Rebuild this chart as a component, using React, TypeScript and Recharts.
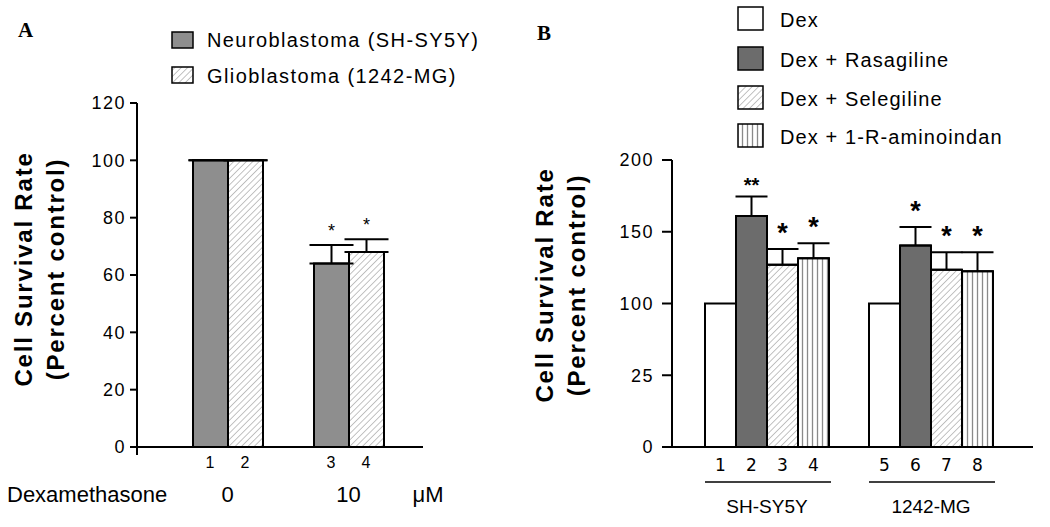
import React from "react";
import { BarChart, Bar, XAxis, YAxis, ErrorBar, Customized } from "recharts";

const FONT = "'Liberation Sans', Arial, sans-serif";

// panel A: dexamethasone alone
const groupsA = ["0", "10"];
const seriesA = ["Neuroblastoma (SH-SY5Y)", "Glioblastoma (1242-MG)"];
const neuroMean = [100, 64];
const neuroErr = [0, 6.5];
const glioMean = [100, 68];
const glioErr = [0, 4.5];
const neuroStars = ["", "*"];
const glioStars = ["", "*"];
const barNumbersA = [["1", "2"], ["3", "4"]];
const ticksA = [0, 20, 40, 60, 80, 100, 120];

// panel B: dex + MAO inhibitors
const groupsB = ["SH-SY5Y", "1242-MG"];
const seriesB = ["Dex", "Dex + Rasagiline", "Dex + Selegiline", "Dex + 1-R-aminoindan"];
const dexMean = [100, 100];
const dexErr = [0, 0];
const rasMean = [161, 140.5];
const rasErr = [13.5, 12.8];
const selMean = [127, 123.5];
const selErr = [11, 12.3];
const amiMean = [131.5, 122.5];
const amiErr = [10.5, 13.3];
const dexStars = ["", ""];
const rasStars = ["**", "*"];
const selStars = ["*", "*"];
const amiStars = ["*", "*"];
const barNumbersB = [["1", "2", "3", "4"], ["5", "6", "7", "8"]];
const tickLabelsB = [0, 25, 100, 150, 200];

// the B axis is broken: its labelled ticks sit at equal steps
function toPos(v: number) {
  for (let i = 0; i < tickLabelsB.length - 1; i++) {
    const a = tickLabelsB[i];
    const b = tickLabelsB[i + 1];
    if (v <= b) return i + (v - a) / (b - a);
  }
  return tickLabelsB.length - 1;
}

const dataA = groupsA.map((g, i) => ({
  group: g,
  neuro: neuroMean[i],
  neuroE: [0, neuroErr[i]],
  glio: glioMean[i],
  glioE: [0, glioErr[i]],
}));

const errPos = (m: number, e: number) => [0, toPos(m + e) - toPos(m)];

const dataB = groupsB.map((g, i) => ({
  group: g,
  dex: toPos(dexMean[i]),
  dexE: errPos(dexMean[i], dexErr[i]),
  ras: toPos(rasMean[i]),
  rasE: errPos(rasMean[i], rasErr[i]),
  sel: toPos(selMean[i]),
  selE: errPos(selMean[i], selErr[i]),
  ami: toPos(amiMean[i]),
  amiE: errPos(amiMean[i], amiErr[i]),
}));

const GRAY_A = "#8e8e8e";
const GRAY_B = "#6c6c6c";

const Patterns = () => (
  <defs>
    <pattern id="hatch" patternUnits="userSpaceOnUse" width={4.5} height={4.5} patternTransform="rotate(45)">
      <rect width={4.5} height={4.5} fill="#fff" />
      <line x1={0} y1={0} x2={0} y2={4.5} stroke="#9a9a9a" strokeWidth={1.2} />
    </pattern>
    <pattern id="vstripe" patternUnits="userSpaceOnUse" width={5} height={5}>
      <rect width={5} height={5} fill="#fff" />
      <line x1={2.5} y1={0} x2={2.5} y2={5} stroke="#8a8a8a" strokeWidth={1.3} />
    </pattern>
  </defs>
);

const starA = (stars: string[], errs: number[]) => (p: any) => {
  const { x, y, width, height, value, index } = p;
  if (!stars[index]) return null;
  const top = y - (errs[index] * height) / value;
  return (
    <text x={x + width / 2} y={top - 8} textAnchor="middle" fontSize={18} fontFamily={FONT} fill="#000">
      {stars[index]}
    </text>
  );
};

const starB = (stars: string[], means: number[], errs: number[]) => (p: any) => {
  const { x, y, width, height, value, index } = p;
  const s = stars[index];
  if (!s) return null;
  const d = toPos(means[index] + errs[index]) - toPos(means[index]);
  const top = y - (d * height) / value;
  const dbl = s.length > 1;
  return (
    <text
      x={x + width / 2}
      y={top - (dbl ? 5 : 7)}
      textAnchor="middle"
      fontSize={dbl ? 20 : 27}
      fontWeight="bold"
      fontFamily={FONT}
      fill="#000"
    >
      {s}
    </text>
  );
};

const TickA = (p: any) => {
  const { x, y, payload } = p;
  const nums = barNumbersA[payload.index] || [];
  return (
    <g fontFamily={FONT} fill="#000">
      {nums.map((n, j) => (
        <text key={n} x={x + (j - 0.5) * 35} y={y + 21} textAnchor="middle" fontSize={16}>
          {n}
        </text>
      ))}
      <text x={x} y={y + 55} textAnchor="middle" fontSize={22}>
        {payload.value}
      </text>
    </g>
  );
};

const TickB = (p: any) => {
  const { x, y, payload } = p;
  const nums = barNumbersB[payload.index] || [];
  return (
    <g fill="#000">
      {nums.map((n, j) => (
        <text key={n} x={x + (j - 1.5) * 31} y={y + 24} textAnchor="middle" fontSize={17} fontFamily="'DejaVu Sans', sans-serif">
          {n}
        </text>
      ))}
      <line x1={x - 62} x2={x + 64} y1={y + 35} y2={y + 35} stroke="#000" strokeWidth={1.5} />
      <text x={x} y={y + 66} textAnchor="middle" fontSize={19} fontFamily={FONT}>
        {payload.value}
      </text>
    </g>
  );
};

const axisStyle = { stroke: "#000", strokeWidth: 2 };

const YLabel = ({ x1, x2, y }: { x1: number; x2: number; y: number }) => (
  <g fontFamily={FONT} fontWeight="bold" fontSize={24} fill="#000" letterSpacing={1.8}>
    <text x={x1} y={y} textAnchor="middle" transform={`rotate(-90, ${x1}, ${y})`}>
      Cell Survival Rate
    </text>
    <text x={x2} y={y} textAnchor="middle" transform={`rotate(-90, ${x2}, ${y})`}>
      (Percent control)
    </text>
  </g>
);

const OverlayA = () => (
  <g>
    <text x={18} y={37} fontFamily="'Liberation Serif', serif" fontWeight="bold" fontSize={21} fill="#000">
      A
    </text>
    <rect x={172} y={32} width={21} height={16} fill={GRAY_A} stroke="#000" strokeWidth={1.5} />
    <rect x={172} y={67} width={21} height={16} fill="url(#hatch)" stroke="#000" strokeWidth={1.5} />
    <g fontFamily={FONT} fontSize={20} fill="#000" letterSpacing={1.4}>
      <text x={207} y={47}>{seriesA[0]}</text>
      <text x={207} y={83}>{seriesA[1]}</text>
    </g>
    <YLabel x1={32} x2={64} y={269} />
    <line x1={137} x2={137} y1={447} y2={455} stroke="#000" strokeWidth={2} />
    <g fontFamily={FONT} fontSize={22} fill="#000">
      <text x={7} y={502}>Dexamethasone</text>
      <text x={428} y={502} textAnchor="middle">μM</text>
    </g>
  </g>
);

const legendFillsB = ["#fff", GRAY_B, "url(#hatch)", "url(#vstripe)"];
const legendRowsB = [7, 47, 86, 124];

const OverlayB = () => (
  <g>
    <text x={17} y={40} fontFamily="'Liberation Serif', serif" fontWeight="bold" fontSize={21} fill="#000">
      B
    </text>
    {seriesB.map((s, i) => (
      <g key={s}>
        <rect x={218} y={legendRowsB[i]} width={25} height={23} fill={legendFillsB[i]} stroke="#000" strokeWidth={1.5} />
        <text x={260} y={legendRowsB[i] + 20} fontFamily={FONT} fontSize={20} letterSpacing={1.1} fill="#000">
          {s}
        </text>
      </g>
    ))}
    <YLabel x1={33} x2={65} y={285} />
  </g>
);

export default function App() {
  return (
    <div style={{ position: "absolute", left: 0, top: 0, width: 1050, height: 527, background: "#fff" }}>
      <div style={{ position: "absolute", left: 0, top: 0 }}>
        <BarChart width={520} height={527} data={dataA} margin={{ top: 103, right: 97, bottom: 50, left: 87 }} barGap={0}>
          <Patterns />
          <XAxis
            dataKey="group"
            stroke="#000"
            axisLine={axisStyle}
            tickLine={false}
            tickSize={0}
            tickMargin={0}
            height={30}
            interval={0}
            padding={{ left: 30, right: 14 }}
            tick={TickA}
          />
          <YAxis
            domain={[0, 120]}
            ticks={ticksA}
            width={50}
            stroke="#000"
            tickSize={7}
            tickMargin={4}
            axisLine={axisStyle}
            tickLine={axisStyle}
            tick={{ fill: "#000", fontSize: 18, fontFamily: FONT, letterSpacing: 1.5 }}
          />
          <Bar dataKey="neuro" name={seriesA[0]} fill={GRAY_A} stroke="#000" strokeWidth={2} barSize={35} isAnimationActive={false} label={starA(neuroStars, neuroErr)}>
            <ErrorBar dataKey="neuroE" direction="y" width={22} stroke="#000" strokeWidth={2} />
          </Bar>
          <Bar dataKey="glio" name={seriesA[1]} fill="url(#hatch)" stroke="#000" strokeWidth={2} barSize={35} isAnimationActive={false} label={starA(glioStars, glioErr)}>
            <ErrorBar dataKey="glioE" direction="y" width={22} stroke="#000" strokeWidth={2} />
          </Bar>
          <Customized component={OverlayA} />
        </BarChart>
      </div>
      <div style={{ position: "absolute", left: 520, top: 0 }}>
        <BarChart width={530} height={527} data={dataB} margin={{ top: 160, right: 17, bottom: 50, left: 92 }} barGap={0}>
          <Patterns />
          <XAxis
            dataKey="group"
            stroke="#000"
            axisLine={axisStyle}
            tickLine={false}
            tickSize={0}
            tickMargin={0}
            height={30}
            interval={0}
            padding={{ left: 13, right: 20 }}
            tick={TickB}
          />
          <YAxis
            domain={[0, tickLabelsB.length - 1]}
            ticks={tickLabelsB.map((_, i) => i)}
            tickFormatter={(v: number) => String(tickLabelsB[v])}
            width={60}
            stroke="#000"
            tickSize={10}
            tickMargin={8}
            axisLine={axisStyle}
            tickLine={axisStyle}
            tick={{ fill: "#000", fontSize: 18, fontFamily: FONT, letterSpacing: 1.5 }}
          />
          <Bar dataKey="dex" name={seriesB[0]} fill="#fff" stroke="#000" strokeWidth={2} barSize={31} isAnimationActive={false} label={starB(dexStars, dexMean, dexErr)} />
          <Bar dataKey="ras" name={seriesB[1]} fill={GRAY_B} stroke="#000" strokeWidth={2} barSize={31} isAnimationActive={false} label={starB(rasStars, rasMean, rasErr)}>
            <ErrorBar dataKey="rasE" direction="y" width={16} stroke="#000" strokeWidth={2} />
          </Bar>
          <Bar dataKey="sel" name={seriesB[2]} fill="url(#hatch)" stroke="#000" strokeWidth={2} barSize={31} isAnimationActive={false} label={starB(selStars, selMean, selErr)}>
            <ErrorBar dataKey="selE" direction="y" width={16} stroke="#000" strokeWidth={2} />
          </Bar>
          <Bar dataKey="ami" name={seriesB[3]} fill="url(#vstripe)" stroke="#000" strokeWidth={2} barSize={31} isAnimationActive={false} label={starB(amiStars, amiMean, amiErr)}>
            <ErrorBar dataKey="amiE" direction="y" width={16} stroke="#000" strokeWidth={2} />
          </Bar>
          <Customized component={OverlayB} />
        </BarChart>
      </div>
    </div>
  );
}
